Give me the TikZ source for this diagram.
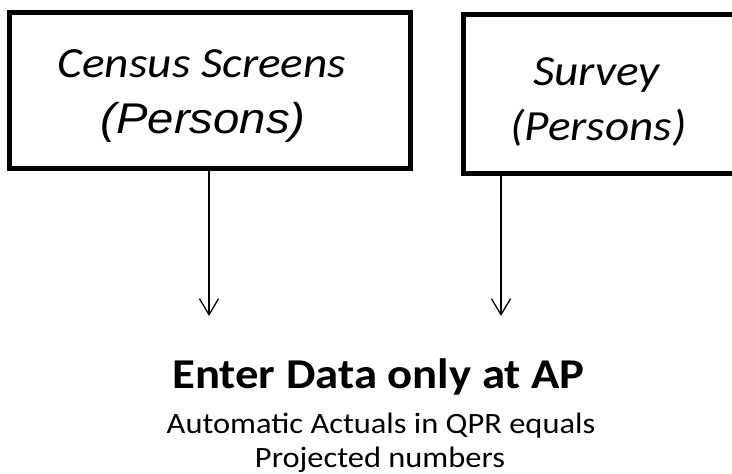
\documentclass[tikz,border=0pt]{standalone}
\usepackage{fontspec}
\setmainfont{Carlito}
\newfontfamily\arialfont{Liberation Sans}
\usetikzlibrary{arrows.meta}
\tikzset{
  box/.style={draw=black, line width=5pt, inner sep=0pt, outer sep=0pt, minimum width=#1},
  txt/.style={anchor=base, inner sep=0pt, outer sep=0pt, xscale=1.1, transform shape},
  flow/.style={draw=black, line width=1.3pt, -{Straight Barb[length=16pt,width=19pt,line width=1.3pt]}}
}
\begin{document}
\begin{tikzpicture}[x=1pt,y=-1pt]
\useasboundingbox (0,0) rectangle (732,474);
\clip (0,0) rectangle (732,474);
% boxes
\node[box=400.5pt, minimum height=156pt] (census) at (209.75,90) {};
\node[box=277pt, minimum height=159pt] (survey) at (601.5,93.5) {};
% box texts
\node[txt, font=\fontsize{43}{50}\selectfont\itshape] (censusA) at (202,77) {Census Screens};
\node[txt, font=\fontsize{43}{50}\selectfont\arialfont\itshape] (censusB) at (203,133) {(Persons)};
\node[txt, font=\fontsize{43}{50}\selectfont\itshape] (surveyA) at (596.5,85) {Survey};
\node[txt, font=\fontsize{43}{50}\selectfont\itshape] (surveyB) at (598.5,140) {(Persons)};
% bottom texts
\node[txt, font=\fontsize{42.5}{50}\selectfont\bfseries] (enter) at (378.5,388) {Enter Data only at AP};
\node[txt, font=\fontsize{29.5}{36}\selectfont] (autoA) at (381,433) {Automatic Actuals in QPR equals};
\node[txt, font=\fontsize{29.5}{36}\selectfont] (autoB) at (380,467) {Projected numbers};
% arrows
\coordinate (e1) at (209,316);
\coordinate (e2) at (501,316);
\draw[flow] (census.south -| e1) -- (e1);
\draw[flow] (survey.south -| e2) -- (e2);
\end{tikzpicture}
\end{document}
